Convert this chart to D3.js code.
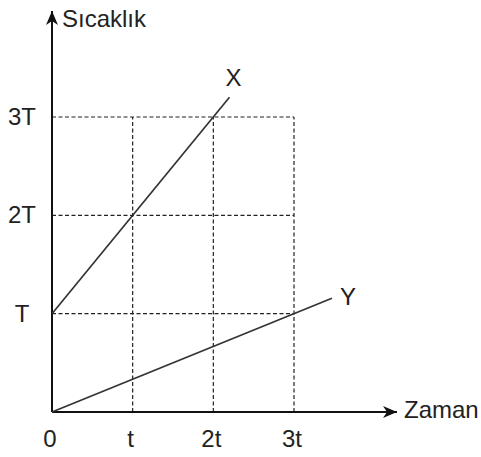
<!DOCTYPE html>
<html>
<head>
<meta charset="utf-8">
<script src="https://cdn.jsdelivr.net/npm/d3@7"></script>
<style>
  body { margin: 0; background: #fff; }
  text { font-family: "Liberation Sans", Arial, sans-serif; fill: #222; }
</style>
</head>
<body>
<div id="chart"></div>
<script>
// values in units of t (time) and T (temperature)
const xTicks = [0, 1, 2, 3];
const xTickLabels = ["0", "t", "2t", "3t"];
const yTicks = [1, 2, 3];
const yTickLabels = ["T", "2T", "3T"];
const seriesNames = ["X", "Y"];
const seriesX = [[0, 1], [2.2, 3.2]];     // [start, end] as [time, temp]
const seriesY = [[0, 0], [3.47, 1.157]];

const width = 481, height = 457;
const svg = d3.select("#chart").append("svg")
  .attr("width", width).attr("height", height);

const x = d3.scaleLinear().domain([0, 3]).range([52, 294]);
const y = d3.scaleLinear().domain([0, 3]).range([412, 117]);

const defs = svg.append("defs");
defs.append("marker")
  .attr("id", "arrow")
  .attr("viewBox", "0 0 14 12")
  .attr("refX", 14).attr("refY", 6)
  .attr("markerWidth", 14).attr("markerHeight", 12)
  .attr("markerUnits", "userSpaceOnUse")
  .attr("orient", "auto")
  .append("path").attr("d", "M0,0 L14,6 L0,12 L4,6 Z").attr("fill", "#111");

// dashed grid
const grid = svg.append("g")
  .attr("stroke", "#222").attr("stroke-width", 1.2).attr("stroke-dasharray", "4,2.5");
yTicks.forEach(v => {
  grid.append("line").attr("x1", x(0)).attr("x2", x(3)).attr("y1", y(v)).attr("y2", y(v));
});
xTicks.slice(1).forEach(v => {
  grid.append("line").attr("x1", x(v)).attr("x2", x(v)).attr("y1", y(0)).attr("y2", y(3));
});

// axes
svg.append("line")
  .attr("x1", x(0)).attr("y1", y(0)).attr("x2", x(0)).attr("y2", 11)
  .attr("stroke", "#111").attr("stroke-width", 2).attr("marker-end", "url(#arrow)");
svg.append("line")
  .attr("x1", x(0)).attr("y1", y(0)).attr("x2", 397).attr("y2", y(0))
  .attr("stroke", "#111").attr("stroke-width", 2).attr("marker-end", "url(#arrow)");

// series lines
const line = d3.line().x(d => x(d[0])).y(d => y(d[1]));
[seriesX, seriesY].forEach(s => {
  svg.append("path").attr("d", line(s))
    .attr("fill", "none").attr("stroke", "#333").attr("stroke-width", 1.7);
});
svg.append("text").attr("x", x(seriesX[1][0]) + 4).attr("y", y(seriesX[1][1]) - 11)
  .attr("text-anchor", "middle").attr("font-size", 24).text(seriesNames[0]);
svg.append("text").attr("x", x(seriesY[1][0]) + 16).attr("y", y(seriesY[1][1]) + 7)
  .attr("text-anchor", "middle").attr("font-size", 24).text(seriesNames[1]);

// tick labels
xTicks.forEach((v, i) => {
  svg.append("text").attr("x", x(v) - 2).attr("y", 447)
    .attr("text-anchor", "middle").attr("font-size", 24).text(xTickLabels[i]);
});
yTicks.forEach((v, i) => {
  svg.append("text").attr("x", 22).attr("y", y(v) + 8)
    .attr("text-anchor", "middle").attr("font-size", 24).text(yTickLabels[i]);
});

// axis titles
svg.append("text").attr("x", 62).attr("y", 27).attr("font-size", 24).text("Sıcaklık");
svg.append("text").attr("x", 404).attr("y", 418).attr("font-size", 24).text("Zaman");
</script>
</body>
</html>
